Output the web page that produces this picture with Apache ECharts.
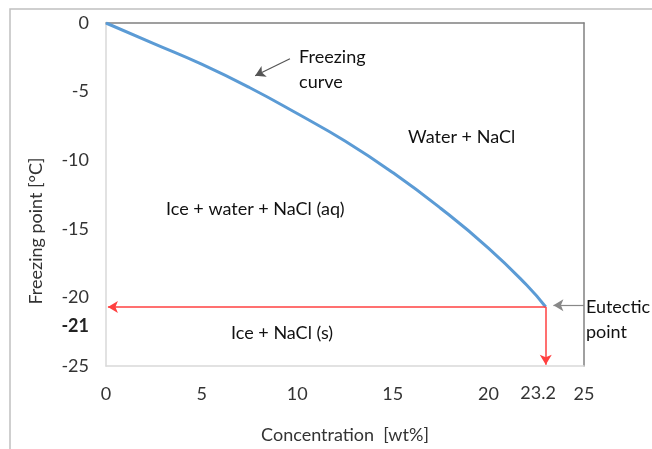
<!DOCTYPE html>
<html><head><meta charset="utf-8">
<script src="https://cdn.jsdelivr.net/npm/echarts@6/dist/echarts.min.js"></script>
<style>html,body{margin:0;padding:0;background:#fff}#c{width:652px;height:449px}</style>
</head><body><div id="c"></div>
<script>
// ---- data ----
var concentration = [0, 2.5, 5, 7.5, 10, 12.5, 15, 17.5, 20, 22, 23.0];
var freezingPoint = [0, -1.5, -3.0, -4.7, -6.6, -8.6, -10.9, -13.5, -16.4, -19.1, -20.7];
var eutecticX = 23.0, eutecticY = -20.7;
var xTicks = [0, 5, 10, 15, 20, 25];
var yTicks = [0, -5, -10, -15, -20, -25];
var extraXLabel = '23.2', extraYLabel = '-21';

var FONT = 'Lato';
var FS = 18;
var chart = echarts.init(document.getElementById('c'), null, {renderer: 'canvas'});
var curve = concentration.map(function (x, i) { return [x, freezingPoint[i]]; });

var option = {
  animation: false,
  textStyle: {fontFamily: FONT},
  grid: {left: 106, top: 23, width: 478, height: 345},
  xAxis: [{
    type: 'value', min: xTicks[0], max: xTicks[xTicks.length - 1], interval: 5, position: 'bottom',
    axisLine: {onZero: false, lineStyle: {color: '#d9d9d9', width: 1.5}},
    axisTick: {show: false}, splitLine: {show: false},
    axisLabel: {color: '#333', fontSize: FS, margin: 19, fontFamily: FONT},
    name: 'Concentration  [wt%]', nameLocation: 'middle', nameGap: 60,
    nameTextStyle: {color: '#333', fontSize: FS, fontFamily: FONT}
  }, {
    type: 'value', min: 0, max: 25, position: 'top',
    axisLine: {onZero: false, lineStyle: {color: '#808080', width: 1.5}},
    axisTick: {show: false}, axisLabel: {show: false}, splitLine: {show: false}
  }],
  yAxis: [{
    type: 'value', min: yTicks[yTicks.length - 1], max: yTicks[0], interval: 5, position: 'left',
    axisLine: {show: true, onZero: false, lineStyle: {color: '#d9d9d9', width: 1.5}},
    axisTick: {show: false}, splitLine: {show: false},
    axisLabel: {color: '#333', fontSize: FS, margin: 17, fontFamily: FONT}
  }, {
    type: 'value', min: -25, max: 0, position: 'right',
    axisLine: {show: true, onZero: false, lineStyle: {color: '#808080', width: 1.5}},
    axisTick: {show: false}, axisLabel: {show: false}, splitLine: {show: false}
  }],
  series: [{
    type: 'line', data: curve, symbol: 'none', smooth: true,
    lineStyle: {color: '#5B9BD5', width: 3}, z: 3,
    markLine: {
      silent: true, symbol: ['none', 'arrow'], symbolSize: [9, 10],
      label: {show: false},
      lineStyle: {color: '#ff4040', width: 1.5, type: 'solid'},
      data: [
        [{coord: [eutecticX, eutecticY]}, {coord: [0.1, eutecticY]}],
        [{coord: [eutecticX, eutecticY]}, {coord: [eutecticX, -24.9]}],
        [{coord: [25, -20.58], lineStyle: {color: '#888', width: 1.2}},
         {coord: [23.4, -20.58], lineStyle: {color: '#888', width: 1.2}, itemStyle: {color: '#000'}}],
        [{coord: [9.62, -2.61], lineStyle: {color: '#555', width: 1.2}},
         {coord: [7.8, -3.84], lineStyle: {color: '#555', width: 1.2}, itemStyle: {color: '#000'}}]
      ]
    }
  }]
};
chart.setOption(option);

function P(x, y) { return chart.convertToPixel({gridIndex: 0}, [x, y]); }
function txt(x, y, s, extra) {
  var p = P(x, y);
  var st = {text: s, fill: '#111', font: FS + 'px ' + FONT, textAlign: 'left', textVerticalAlign: 'middle', lineHeight: 25};
  for (var k in (extra || {})) st[k] = extra[k];
  return {type: 'text', x: p[0], y: p[1], style: st, z: 10};
}
var bottomY = P(0, -25)[1];
var g = [
  {type: 'rect', shape: {x: 10, y: 9, width: 700, height: 500}, style: {fill: 'none', stroke: '#c0c0c0', lineWidth: 1.5}, z: -1},
  {type: 'text', x: 36, y: 231, rotation: Math.PI / 2,
   style: {text: 'Freezing point [°C]', fill: '#333', font: FS + 'px ' + FONT, textAlign: 'center', textVerticalAlign: 'middle'}},
  txt(10.1, -3.37, 'Freezing\ncurve'),
  txt(15.8, -8.33, 'Water + NaCl'),
  txt(3.14, -13.55, 'Ice + water + NaCl (aq)'),
  txt(6.54, -22.6, 'Ice + NaCl (s)'),
  txt(25.1, -21.6, 'Eutectic\npoint'),
  (function () { var p = P(22.6, -25); return {type: 'text', x: p[0], y: bottomY + 27, style: {text: extraXLabel, fill: '#333', font: FS + 'px ' + FONT, textAlign: 'center', textVerticalAlign: 'middle'}}; })(),
  (function () { var p = P(0, -20); return {type: 'text', x: p[0] - 17, y: p[1] + 29, style: {text: extraYLabel, fill: '#222', font: 'bold ' + FS + 'px ' + FONT, textAlign: 'right', textVerticalAlign: 'middle'}}; })()
];
chart.setOption({graphic: g});
</script></body></html>
